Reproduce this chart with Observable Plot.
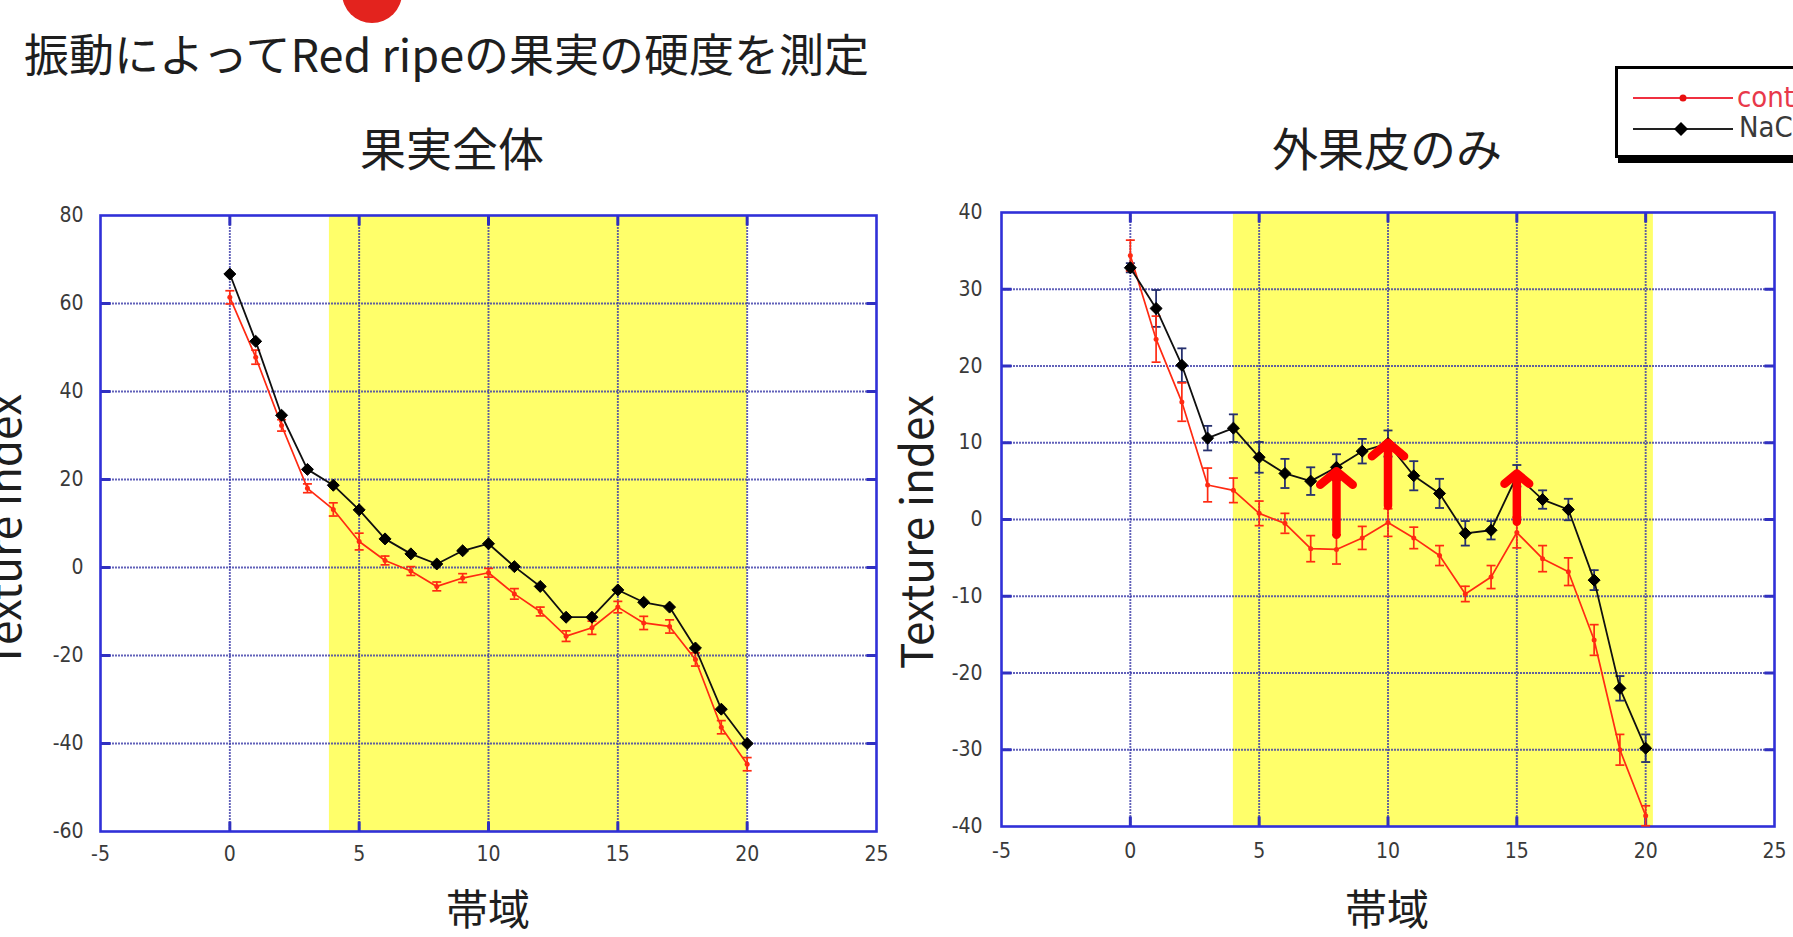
<!DOCTYPE html>
<html><head><meta charset="utf-8">
<script src="https://cdn.jsdelivr.net/npm/d3@7"></script>
<script src="https://cdn.jsdelivr.net/npm/@observablehq/plot@0.6"></script>
<style>
html,body{margin:0;padding:0;background:#fff;}
body{width:1793px;height:937px;overflow:hidden;position:relative;font-family:"Noto Sans CJK JP","Noto Sans",sans-serif;color:#1e1e1e;}
.abs{position:absolute;white-space:nowrap;}
#redmark{left:342px;top:-37px;width:60px;height:60px;border-radius:50%;background:#e3231e;}
#title{left:24px;top:30px;font-size:45px;line-height:45px;}
.sub{width:500px;text-align:center;font-size:46px;line-height:46px;top:123px;}
.xlab{width:400px;text-align:center;font-size:42px;line-height:42px;top:886px;}
.ylab{font-size:44px;line-height:44px;transform:translate(-50%,-50%) rotate(-90deg);font-family:"Noto Sans CJK JP",sans-serif;}
#legendBox{left:1615px;top:66px;width:260px;height:92px;border:3px solid #000;box-sizing:border-box;box-shadow:3px 5px 0 #000;background:#fff;}
#legendSvg{left:1615px;top:66px;}
.chart{position:absolute;}
</style></head><body>
<div id="redmark" class="abs"></div>
<div id="title" class="abs">振動によってRed ripeの果実の硬度を測定</div>
<div class="abs sub" style="left:202px;">果実全体</div>
<div class="abs sub" style="left:1137px;">外果皮のみ</div>
<div class="abs xlab" style="left:288px;">帯域</div>
<div class="abs xlab" style="left:1187px;">帯域</div>
<div class="abs ylab" style="left:2px;top:531px;">Texture index</div>
<div class="abs ylab" style="left:914px;top:532px;">Texture index</div>
<div id="leftChart" class="chart" style="left:0;top:190px;"></div>
<div id="rightChart" class="chart" style="left:900px;top:190px;"></div>
<div id="legendBox" class="abs"></div>
<svg id="legendSvg" class="abs" width="178" height="100" style="overflow:hidden">
  <line x1="18" x2="118" y1="32" y2="32" stroke="#f03040" stroke-width="2"/>
  <circle cx="68" cy="32" r="3.5" fill="#e81010"/>
  <text x="122" y="41" font-family="Liberation Sans Narrow, DejaVu Sans Condensed, sans-serif" font-size="29" fill="#e8384a">control</text>
  <line x1="18" x2="118" y1="63" y2="63" stroke="#222" stroke-width="2"/>
  <polygon points="66,56 73,63 66,70 59,63" fill="#000"/>
  <text x="124" y="71" font-family="Liberation Sans Narrow, DejaVu Sans Condensed, sans-serif" font-size="29" fill="#3a3a3a">NaCl</text>
</svg>
<script>
// ---- data ----
const bands = [0,1,2,3,4,5,6,7,8,9,10,11,12,13,14,15,16,17,18,19,20];
const xTicks = [-5,0,5,10,15,20,25];

// 果実全体 (whole fruit)
const leftYTicks = [-60,-40,-20,0,20,40,60,80];
const leftBand = [3.85, 20];
const leftControl = [61.4,47.8,32.3,18.0,13.2,5.9,1.6,-0.8,-4.3,-2.4,-1.2,-6.0,-10.0,-15.6,-13.7,-9.0,-12.6,-13.4,-20.9,-36.3,-44.7];
const leftControlErr = [1.5,1.6,1.3,1.0,1.5,1.9,1.0,1.0,1.0,1.0,1.0,1.2,1.0,1.2,1.5,1.3,1.5,1.5,1.5,1.5,1.5];
const leftNaCl = [66.7,51.4,34.6,22.3,18.7,13.1,6.5,3.1,0.8,3.8,5.4,0.2,-4.3,-11.3,-11.3,-5.1,-7.9,-9.0,-18.3,-32.2,-40.0];

// 外果皮のみ (pericarp only)
const rightYTicks = [-40,-30,-20,-10,0,10,20,30,40];
const rightBand = [4.0, 20.3];
const rightControl = [34.4,23.5,15.3,4.5,3.8,0.8,-0.5,-3.8,-3.9,-2.4,-0.4,-2.4,-4.7,-9.7,-7.5,-1.7,-5.1,-6.8,-15.7,-30.0,-38.6];
const rightControlErr = [2.0,3.0,2.5,2.2,1.6,1.6,1.3,1.7,1.9,1.5,1.8,1.4,1.3,1.0,1.5,2.0,1.7,1.8,2.0,2.0,1.3];
const rightNaCl = [32.8,27.5,20.1,10.6,11.9,8.1,6.0,5.0,6.8,8.9,9.9,5.7,3.4,-1.8,-1.4,5.7,2.6,1.3,-7.9,-22.0,-29.8];
const rightNaClErr = [0.6,2.4,2.2,1.6,1.8,2.0,1.9,1.8,1.7,1.6,1.7,1.9,1.9,1.6,1.2,1.4,1.2,1.4,1.3,1.6,1.8];

const arrowBands = [8, 10, 15];
const arrowFrom = [-2.0, 1.8, -0.3];
const arrowTo = [6.3, 10.0, 6.0];

// ---- helpers ----
const capSymbol = {draw(ctx, size){ const r = Math.sqrt(size/Math.PI); ctx.moveTo(-r,0); ctx.lineTo(r,0); }};
const vSymbol = {draw(ctx, size){ const r = Math.sqrt(size/Math.PI); ctx.moveTo(0,-r); ctx.lineTo(0,r); }};
const RED = "#ff2a12";

function errMarks(rows, yKey, eKey, color, w){
  return [
    Plot.ruleX(rows, {x:"band", y1:d=>d[yKey]-d[eKey], y2:d=>d[yKey]+d[eKey], stroke:color, strokeWidth:w}),
    Plot.dot(rows, {x:"band", y:d=>d[yKey]+d[eKey], symbol:capSymbol, r:4.5, fill:"none", stroke:color, strokeWidth:w}),
    Plot.dot(rows, {x:"band", y:d=>d[yKey]-d[eKey], symbol:capSymbol, r:4.5, fill:"none", stroke:color, strokeWidth:w})
  ];
}

function makeChart(o){
  const rows = bands.map((b,i)=>({band:b, control:o.control[i], cErr:o.controlErr[i], nacl:o.nacl[i], nErr:o.naclErr ? o.naclErr[i] : 0}));
  const grid = {stroke:"#3a3aa8", strokeWidth:1.9, strokeDasharray:"2,1", strokeOpacity:0.8};
  const yLo = o.yTicks[0], yHi = o.yTicks[o.yTicks.length-1];
  const xLo = xTicks[0], xHi = xTicks[xTicks.length-1];
  const tickStyle = {fill:"none", stroke:"#3030c0", strokeWidth:3, r:5};
  const marks = [
    Plot.rect([o.band], {x1:d=>d[0], x2:d=>d[1], y1:yLo, y2:yHi, fill:"#ffff6a"}),
    Plot.ruleX(xTicks.slice(1,-1), grid),
    Plot.ruleY(o.yTicks.slice(1,-1), grid),
    // short inner tick marks along the frame
    Plot.dot(o.yTicks.slice(1,-1), {x:xLo, y:d=>d, symbol:capSymbol, dx:5, ...tickStyle}),
    Plot.dot(o.yTicks.slice(1,-1), {x:xHi, y:d=>d, symbol:capSymbol, dx:-5, ...tickStyle}),
    Plot.dot(xTicks.slice(1,-1), {x:d=>d, y:yHi, symbol:vSymbol, dy:5, ...tickStyle}),
    Plot.dot(xTicks.slice(1,-1), {x:d=>d, y:yLo, symbol:vSymbol, dy:-5, ...tickStyle}),
    Plot.frame({stroke:"#3030d8", strokeWidth:2.6}),
  ];
  if (o.naclErr) marks.push(...errMarks(rows, "nacl", "nErr", "#26306e", 1.8));
  marks.push(
    ...errMarks(rows, "control", "cErr", RED, 1.7),
    Plot.line(rows, {x:"band", y:"control", stroke:RED, strokeWidth:1.7}),
    Plot.dot(rows, {x:"band", y:"control", r:2.5, fill:RED}),
    Plot.line(rows, {x:"band", y:"nacl", stroke:"#101010", strokeWidth:1.8}),
    Plot.dot(rows, {x:"band", y:"nacl", symbol:"diamond2", r:5.4, fill:"#000", stroke:"#000", strokeWidth:1})
  );
  if (o.arrows) {
    const arr = arrowBands.map((b,i)=>({band:b, from:arrowFrom[i], to:arrowTo[i]}));
    marks.push(Plot.arrow(arr, {x:"band", y1:"from", y2:"to", stroke:"#ff0000", strokeWidth:8.5, headAngle:100, headLength:4.4}));
  }
  return Plot.plot({
    width:o.width, height:o.height,
    marginLeft:o.ml, marginRight:o.mr, marginTop:o.mt, marginBottom:o.mb,
    style:{background:"transparent", fontFamily:"'Liberation Sans Narrow','DejaVu Sans Condensed',sans-serif", fontSize:"21px", color:"#3a3a3a", overflow:"visible"},
    x:{domain:[xLo,xHi], ticks:xTicks, tickSize:0, tickPadding:o.xpad, tickFormat:d=>`${d}`, label:null},
    y:{domain:[yLo, yHi], ticks:o.yTicks, tickSize:0, tickPadding:o.ypad, tickFormat:d=>`${d}`, label:null},
    marks
  });
}

document.getElementById("leftChart").append(makeChart({
  width:900, height:700, ml:100, mr:24, mt:25, mb:59, xpad:15, ypad:17,
  yTicks:leftYTicks, band:leftBand, control:leftControl, controlErr:leftControlErr, nacl:leftNaCl, naclErr:null, arrows:false
}));
document.getElementById("rightChart").append(makeChart({
  width:893, height:700, ml:101, mr:19, mt:22, mb:64, xpad:17, ypad:19,
  yTicks:rightYTicks, band:rightBand, control:rightControl, controlErr:rightControlErr, nacl:rightNaCl, naclErr:rightNaClErr, arrows:true
}));
</script>
</body></html>
